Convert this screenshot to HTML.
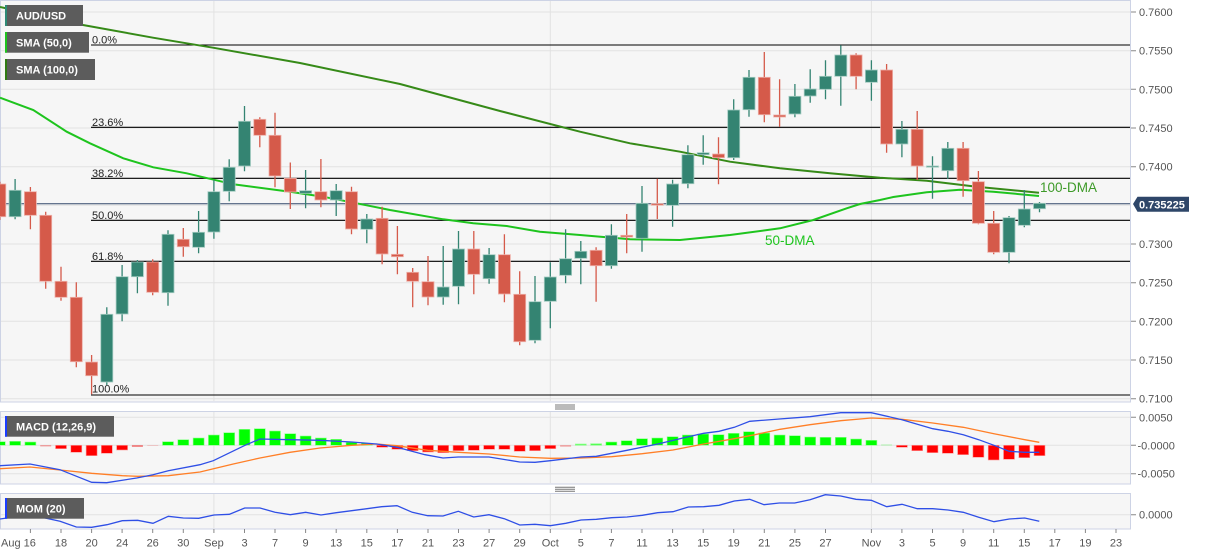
<!DOCTYPE html>
<html><head><meta charset="utf-8"><style>
html,body{margin:0;padding:0;background:#fff;}
body{width:1207px;height:555px;overflow:hidden;}
svg{display:block;font-family:"Liberation Sans",Arial,sans-serif;}
.ax{font-size:11px;fill:#555;}
.lg{font-size:11px;font-weight:bold;fill:#fff;}
.fib{font-size:11px;fill:#222;}
</style></head><body>
<svg width="1207" height="555" viewBox="0 0 1207 555" xmlns="http://www.w3.org/2000/svg">
<defs>
<clipPath id="cm"><rect x="0" y="0" width="1130.5" height="402"/></clipPath>
<clipPath id="cd"><rect x="0" y="411" width="1130.5" height="73"/></clipPath>
<clipPath id="co"><rect x="0" y="493" width="1130.5" height="36"/></clipPath>
</defs>
<!-- panels -->
<rect x="0.5" y="0.5" width="1130" height="401.5" fill="#f6f6f6" stroke="#cdd3e5"/>
<rect x="0.5" y="411.5" width="1130" height="72.5" fill="#f6f6f6" stroke="#cdd3e5"/>
<rect x="0.5" y="493.5" width="1130" height="35.5" fill="#f6f6f6" stroke="#cdd3e5"/>
<!-- gridlines main -->
<g stroke="#e2e2e2" stroke-width="1">
<path d="M1 12H1130M1 50.7H1130M1 89.3H1130M1 128H1130M1 166.7H1130M1 205.3H1130M1 244H1130M1 282.7H1130M1 321.3H1130M1 360H1130M1 398.7H1130"/>
<path d="M213.9 1V401M550.3 1V401M871.4 1V401"/>
<path d="M1 417.3H1130M1 445.3H1130M1 473.7H1130M213.9 412V483M550.3 412V483M871.4 412V483"/>
<path d="M1 514.7H1130M213.9 494V528M550.3 494V528M871.4 494V528"/>
</g>
<!-- handles -->
<g stroke="#777" stroke-width="1">
<path d="M555 405H575M555 407H575M555 409H575"/>
<path d="M555 487.3H575M555 489.3H575M555 491.3H575"/>
</g>
<!-- right axis ticks -->
<g stroke="#888" stroke-width="1">
<path d="M1131 12H1136M1131 50.7H1136M1131 89.3H1136M1131 128H1136M1131 166.7H1136M1131 244H1136M1131 282.7H1136M1131 321.3H1136M1131 360H1136M1131 398.7H1136"/>
<path d="M1131 417.3H1136M1131 445.3H1136M1131 473.7H1136M1131 514.7H1136"/>
<path d="M30.4 529V533M61 529V533M91.6 529V533M122.1 529V533M152.7 529V533M183.3 529V533M213.9 529V533M244.5 529V533M275 529V533M305.6 529V533M336.2 529V533M366.8 529V533M397.4 529V533M428 529V533M458.5 529V533M489.1 529V533M519.7 529V533M550.3 529V533M580.8 529V533M611.4 529V533M642 529V533M672.6 529V533M703.2 529V533M733.7 529V533M764.3 529V533M794.9 529V533M825.5 529V533M871.4 529V533M901.9 529V533M932.5 529V533M963.1 529V533M993.7 529V533M1024.3 529V533M1054.8 529V533M1085.4 529V533M1116 529V533"/>
</g>
<g class="ax">
<text x="1139" y="16">0.7600</text>
<text x="1139" y="54.7">0.7550</text>
<text x="1139" y="93.3">0.7500</text>
<text x="1139" y="132">0.7450</text>
<text x="1139" y="170.7">0.7400</text>
<text x="1139" y="248">0.7300</text>
<text x="1139" y="286.7">0.7250</text>
<text x="1139" y="325.3">0.7200</text>
<text x="1139" y="364">0.7150</text>
<text x="1139" y="402.5">0.7100</text>
<text x="1139" y="421.3">0.0050</text>
<text x="1137.5" y="449.3">-0.0000</text>
<text x="1137.5" y="477.7">-0.0050</text>
<text x="1139" y="518.7">0.0000</text>
</g>
<g class="ax" text-anchor="middle">
<text x="1" y="546.5" text-anchor="start">Aug 16</text>
<text x="61" y="546.5">18</text>
<text x="91.6" y="546.5">20</text>
<text x="122.1" y="546.5">24</text>
<text x="152.7" y="546.5">26</text>
<text x="183.3" y="546.5">30</text>
<text x="213.9" y="546.5">Sep</text>
<text x="244.5" y="546.5">3</text>
<text x="275" y="546.5">7</text>
<text x="305.6" y="546.5">9</text>
<text x="336.2" y="546.5">13</text>
<text x="366.8" y="546.5">15</text>
<text x="397.4" y="546.5">17</text>
<text x="428" y="546.5">21</text>
<text x="458.5" y="546.5">23</text>
<text x="489.1" y="546.5">27</text>
<text x="519.7" y="546.5">29</text>
<text x="550.3" y="546.5">Oct</text>
<text x="580.8" y="546.5">5</text>
<text x="611.4" y="546.5">7</text>
<text x="642" y="546.5">11</text>
<text x="672.6" y="546.5">13</text>
<text x="703.2" y="546.5">15</text>
<text x="733.7" y="546.5">19</text>
<text x="764.3" y="546.5">21</text>
<text x="794.9" y="546.5">25</text>
<text x="825.5" y="546.5">27</text>
<text x="871.4" y="546.5">Nov</text>
<text x="901.9" y="546.5">3</text>
<text x="932.5" y="546.5">5</text>
<text x="963.1" y="546.5">9</text>
<text x="993.7" y="546.5">11</text>
<text x="1024.3" y="546.5">15</text>
<text x="1054.8" y="546.5">17</text>
<text x="1085.4" y="546.5">19</text>
<text x="1116" y="546.5">23</text>
</g>

<g clip-path="url(#cm)">
<!-- fib lines -->
<g stroke="#000" stroke-width="1.1">
<path d="M91 45H1130M91 127.3H1130M91 178.3H1130M91 220.3H1130M91 261.3H1130M91 395H1130"/>
</g>
<g class="fib">
<text x="92" y="43.5">0.0%</text>
<text x="92" y="126">23.6%</text>
<text x="92" y="177">38.2%</text>
<text x="92" y="219">50.0%</text>
<text x="92" y="260">61.8%</text>
<text x="92" y="392.5">100.0%</text>
</g>
<!-- current price line -->
<path d="M0 203.7H1130" stroke="#34496b" stroke-width="1"/>
<!-- SMA100 -->
<polyline fill="none" stroke="#368a18" stroke-width="2" points="0,7 83,25 153,37.7 213,47.7 300,63 400,84 500,111 580,131.7 630,143.3 680,151.7 730,161.7 780,168.3 830,173.3 880,177.7 926.7,180.7 976.7,186.7 1039,192.7"/>
<!-- SMA50 -->
<polyline fill="none" stroke="#1ec41e" stroke-width="2" points="0,97.7 33.3,110 66.7,131.7 90,143.3 123.3,158.3 153.3,167.3 186.7,173.3 233.3,184.3 290,191.7 323,196.7 356.7,203.3 390,210 443.3,219.3 473.3,223.3 506.7,226 540,231.7 580,235 630,239.3 680,240 730,235 780,228.3 813.3,220 846.7,208.3 860,204 880,200 893.3,197 926.7,192.3 960,189.7 993.3,191.7 1039,196"/>
<!-- wicks -->
<path fill="none" stroke="#348472" stroke-width="1.3" d="M15.1 179V219.3M106.8 307.3V385M122.1 265V321.3M137.4 260V293.3M168 230.3V305.7M198.6 211V253.3M213.9 180V238.7M229.2 159.3V201.3M244.5 106V171.3M305.6 170V208.3M336.2 184V216M366.8 214V243.3M443.2 246V304.7M458.5 231V304.3M489.1 248V283.7M535 276V343.3M550.3 262.3V328.3M565.6 229.3V283.3M580.8 241V284.3M611.4 224.3V268.7M642 186V251.7M672.6 179.7V226.7M687.9 145.3V188.3M703.2 135.3V164.7M733.7 99.3V160M749 70V116.7M794.9 84V117.3M810.2 69.3V102.7M825.5 60.3V99.3M840.8 45.3V105.7M871.4 60.3V100.7M901.9 121V157.3M932.5 156.3V198.7M947.8 142V179M1009 216V263.3M1024.3 190V227.3M1039.5 202V212.3"/>
<path fill="none" stroke="#d55a4a" stroke-width="1.3" d="M-0.2 181.7V220M30.4 187V229.3M45.7 211.7V288.7M61 266.7V300.7M76.3 282.3V367.3M91.6 355V394.3M152.7 259.3V295.3M183.3 228V256.7M259.8 117.3V147.3M275 112.7V187.3M290.3 162.5V209M320.9 159V207.3M351.5 186.7V234.3M382.1 206.7V264.3M397.4 226V274.3M412.7 268V307.3M428 256V305.3M473.8 231V294.3M504.4 234.3V302.3M519.7 271.3V345.3M596.1 247.3V301.7M626.7 214V253.3M657.3 178.7V219M718.5 137.3V184.3M764.3 52V122.3M779.6 79.3V126.7M856.1 53.3V89.3M886.6 64V152.7M917.2 111V180M963.1 142V196.7M978.4 171V224.3M993.7 211V254.3"/>
<!-- green bodies -->
<g fill="#348472" stroke="#a3cbc1" stroke-width="0.8">
<rect x="9.1" y="190.3" width="12" height="26.4"/>
<rect x="100.8" y="314.3" width="12" height="67.7"/>
<rect x="116.1" y="276.7" width="12" height="37.3"/>
<rect x="131.4" y="262" width="12" height="14.7"/>
<rect x="162" y="234.3" width="12" height="58.4"/>
<rect x="192.6" y="232.3" width="12" height="15"/>
<rect x="207.9" y="191.7" width="12" height="40.3"/>
<rect x="223.2" y="167.3" width="12" height="24"/>
<rect x="238.5" y="121.3" width="12" height="44.7"/>
<rect x="299.6" y="190.7" width="12" height="2.6"/>
<rect x="330.2" y="190.7" width="12" height="9.3"/>
<rect x="360.8" y="219" width="12" height="10.3"/>
<rect x="437.2" y="287" width="12" height="10"/>
<rect x="452.5" y="249" width="12" height="37.3"/>
<rect x="483.1" y="254.7" width="12" height="24"/>
<rect x="529" y="301.7" width="12" height="38.6"/>
<rect x="544.3" y="277" width="12" height="24.3"/>
<rect x="559.6" y="258.7" width="12" height="16.6"/>
<rect x="574.8" y="251.3" width="12" height="7"/>
<rect x="605.4" y="235.3" width="12" height="30.4"/>
<rect x="636" y="203.3" width="12" height="35"/>
<rect x="666.6" y="184" width="12" height="21.3"/>
<rect x="681.9" y="154.7" width="12" height="29"/>
<rect x="697.2" y="152.7" width="12" height="2"/>
<rect x="727.7" y="110" width="12" height="47.7"/>
<rect x="743" y="77.3" width="12" height="32.4"/>
<rect x="788.9" y="96.3" width="12" height="17.7"/>
<rect x="804.2" y="89" width="12" height="7"/>
<rect x="819.5" y="76.3" width="12" height="13"/>
<rect x="834.8" y="55" width="12" height="21.3"/>
<rect x="865.4" y="70" width="12" height="12.3"/>
<rect x="895.9" y="129.3" width="12" height="14.7"/>
<rect x="926.5" y="166" width="12" height="1.2"/>
<rect x="941.8" y="148.3" width="12" height="22.4"/>
<rect x="1003" y="217.7" width="12" height="34.6"/>
<rect x="1018.3" y="209" width="12" height="16.3"/>
<rect x="1033.5" y="203.3" width="12" height="5.4"/>
</g>
<!-- red bodies -->
<g fill="#d55a4a" stroke="#eeb0a8" stroke-width="0.8">
<rect x="-6.2" y="184" width="12" height="32.7"/>
<rect x="24.4" y="191.7" width="12" height="23.6"/>
<rect x="39.7" y="215.3" width="12" height="66"/>
<rect x="55" y="281.3" width="12" height="16"/>
<rect x="70.3" y="297.3" width="12" height="64.4"/>
<rect x="85.6" y="362" width="12" height="13.7"/>
<rect x="146.7" y="262" width="12" height="30.3"/>
<rect x="177.3" y="239.3" width="12" height="7.4"/>
<rect x="253.8" y="119.3" width="12" height="16"/>
<rect x="269" y="135.3" width="12" height="40.7"/>
<rect x="284.3" y="178.3" width="12" height="13.7"/>
<rect x="314.9" y="191.7" width="12" height="8.3"/>
<rect x="345.5" y="191.7" width="12" height="37.3"/>
<rect x="376.1" y="218.3" width="12" height="35.7"/>
<rect x="391.4" y="254.3" width="12" height="2.4"/>
<rect x="406.7" y="272.3" width="12" height="9"/>
<rect x="422" y="281.7" width="12" height="15.3"/>
<rect x="467.8" y="249" width="12" height="25.3"/>
<rect x="498.4" y="254.7" width="12" height="39.3"/>
<rect x="513.7" y="294.3" width="12" height="47.4"/>
<rect x="590.1" y="250.3" width="12" height="15.4"/>
<rect x="620.7" y="235.3" width="12" height="1.7"/>
<rect x="651.3" y="203.7" width="12" height="1.5"/>
<rect x="712.5" y="154" width="12" height="3.7"/>
<rect x="758.3" y="77.3" width="12" height="37.4"/>
<rect x="773.6" y="115" width="12" height="2"/>
<rect x="850.1" y="55" width="12" height="21.3"/>
<rect x="880.6" y="70" width="12" height="74"/>
<rect x="911.2" y="129.3" width="12" height="36.7"/>
<rect x="957.1" y="148.3" width="12" height="32.4"/>
<rect x="972.4" y="181.7" width="12" height="41.6"/>
<rect x="987.7" y="223.3" width="12" height="29"/>
</g>
<text x="765" y="245" font-size="13.5" fill="#1ec41e">50-DMA</text>
<text x="1040" y="192" font-size="13.5" fill="#3d9a28">100-DMA</text>
</g>
<!-- price box -->
<polygon points="1133,204 1137.5,196.7 1189,196.7 1189,211.7 1137.5,211.7" fill="#2e4669"/>
<text x="1139" y="208.3" font-size="11" font-weight="bold" fill="#fff">0.735225</text>

<!-- legend -->
<rect x="5" y="5" width="78" height="21" fill="#5c5c5c"/>
<rect x="5" y="5" width="2" height="21" fill="#2e8a76"/>
<text x="16" y="19.5" class="lg">AUD/USD</text>
<rect x="5" y="32" width="84" height="20.7" fill="#5c5c5c"/>
<rect x="5" y="32" width="2" height="20.7" fill="#1ec41e"/>
<text x="16" y="46.3" class="lg">SMA (50,0)</text>
<rect x="5" y="59" width="90" height="21" fill="#5c5c5c"/>
<rect x="5" y="59" width="2" height="21" fill="#2f7a12"/>
<text x="16" y="73.5" class="lg">SMA (100,0)</text>

<!-- MACD -->
<g clip-path="url(#cd)">
<g fill="#00ff00" stroke="#8fff8f" stroke-width="0.6">
<rect x="-5.7" y="441.7" width="11" height="3.6"/>
<rect x="9.6" y="441.3" width="11" height="4"/>
<rect x="24.9" y="442" width="11" height="3.3"/>
<rect x="162.5" y="441.7" width="11" height="3.6"/>
<rect x="177.8" y="439.7" width="11" height="5.6"/>
<rect x="193.1" y="438" width="11" height="7.3"/>
<rect x="208.4" y="435" width="11" height="10.3"/>
<rect x="223.7" y="432.7" width="11" height="12.6"/>
<rect x="239" y="429.3" width="11" height="16"/>
<rect x="254.3" y="428.7" width="11" height="16.6"/>
<rect x="269.5" y="431" width="11" height="14.3"/>
<rect x="284.8" y="433.7" width="11" height="11.6"/>
<rect x="300.1" y="436" width="11" height="9.3"/>
<rect x="315.4" y="438" width="11" height="7.3"/>
<rect x="330.7" y="439.3" width="11" height="6"/>
<rect x="346" y="442.3" width="11" height="3"/>
<rect x="361.3" y="443.3" width="11" height="2"/>
<rect x="575.3" y="444" width="11" height="1.3" fill="#66ff66"/>
<rect x="590.6" y="443.7" width="11" height="1.6" fill="#55ff55"/>
<rect x="605.9" y="442" width="11" height="3.3"/>
<rect x="621.2" y="440.7" width="11" height="4.6"/>
<rect x="636.5" y="438.7" width="11" height="6.6"/>
<rect x="651.8" y="438" width="11" height="7.3"/>
<rect x="667.1" y="436.7" width="11" height="8.6"/>
<rect x="682.4" y="435" width="11" height="10.3"/>
<rect x="697.7" y="434" width="11" height="11.3"/>
<rect x="713" y="434.7" width="11" height="10.6"/>
<rect x="728.2" y="433.3" width="11" height="12"/>
<rect x="743.5" y="431.7" width="11" height="13.6"/>
<rect x="758.8" y="433" width="11" height="12.3"/>
<rect x="774.1" y="435" width="11" height="10.3"/>
<rect x="789.4" y="435.7" width="11" height="9.6"/>
<rect x="804.7" y="437" width="11" height="8.3"/>
<rect x="820" y="437.3" width="11" height="8"/>
<rect x="835.3" y="437.3" width="11" height="8"/>
<rect x="850.6" y="439" width="11" height="6.3"/>
<rect x="865.9" y="440.3" width="11" height="5"/>
<rect x="881.1" y="444.6" width="11" height="0.8" fill="#99ee99" stroke="none"/>
</g>
<g fill="#ff0000" stroke="#ff9a9a" stroke-width="0.6">
<rect x="40.2" y="445.3" width="11" height="1" fill="#f08080" stroke="none"/>
<rect x="55.5" y="445.3" width="11" height="3.4"/>
<rect x="70.8" y="445.3" width="11" height="7"/>
<rect x="86.1" y="445.3" width="11" height="10.4"/>
<rect x="101.3" y="445.3" width="11" height="8"/>
<rect x="116.6" y="445.3" width="11" height="4.7"/>
<rect x="131.9" y="445.3" width="11" height="1.4" fill="#f06060" stroke="none"/>
<rect x="147.2" y="445.3" width="11" height="0.6" fill="#f0b0b0" stroke="none"/>
<rect x="376.6" y="445.3" width="11" height="2"/>
<rect x="391.9" y="445.3" width="11" height="4"/>
<rect x="407.2" y="445.3" width="11" height="5.4"/>
<rect x="422.5" y="445.3" width="11" height="6.7"/>
<rect x="437.7" y="445.3" width="11" height="7.4"/>
<rect x="453" y="445.3" width="11" height="5.4"/>
<rect x="468.3" y="445.3" width="11" height="5"/>
<rect x="483.6" y="445.3" width="11" height="4"/>
<rect x="498.9" y="445.3" width="11" height="4"/>
<rect x="514.2" y="445.3" width="11" height="6"/>
<rect x="529.5" y="445.3" width="11" height="5.4"/>
<rect x="544.8" y="445.3" width="11" height="3.4"/>
<rect x="560.1" y="445.3" width="11" height="1.2" fill="#f08a8a" stroke="none"/>
<rect x="896.4" y="445.3" width="11" height="2"/>
<rect x="911.7" y="445.3" width="11" height="5.4"/>
<rect x="927" y="445.3" width="11" height="7.4"/>
<rect x="942.3" y="445.3" width="11" height="8"/>
<rect x="957.6" y="445.3" width="11" height="9.4"/>
<rect x="972.9" y="445.3" width="11" height="12"/>
<rect x="988.2" y="445.3" width="11" height="14.7"/>
<rect x="1003.5" y="445.3" width="11" height="14"/>
<rect x="1018.8" y="445.3" width="11" height="12.4"/>
<rect x="1034" y="445.3" width="11" height="10.4"/>
</g>
<polyline fill="none" stroke="#ff7f27" stroke-width="1.3" points="0,468.7 30,467 60,470 91.7,473.3 122.3,475.7 137.7,476.3 168.3,475.7 200,472 233.3,464 260,458 290,452.3 320,448 351.7,445.3 376.7,444 397,445.7 427.7,450.3 458.3,452.3 489,454 519.7,457 550.3,458.3 581,458 611.7,456.7 642.3,453.7 673,450 703.7,444 734.3,438.7 755,434.7 780,429.3 810,424.7 840.7,420.7 871.3,418 902,419.3 932.7,423 963.3,427.3 994,433.7 1024.7,439.7 1039.3,442.3"/>
<polyline fill="none" stroke="#2f4fe6" stroke-width="1.3" points="0,465.7 30,464 60,469.7 91.7,482.3 106.7,482.7 136.7,478 153,474.7 168.3,470.7 200,464.7 213.3,460.7 245,445.3 260,439 290,439.7 320,440.3 351.7,442 376.7,444 397,447.3 425,454.7 443,458 458.3,457 489,457 519.7,462 535,462.3 550.3,460.7 581,457 596.3,456.3 627,450.3 657.7,444 688.3,436.7 703.7,433.3 719,431.3 734.3,427.3 749.7,421.3 779.3,419 810,416.7 840.7,412.7 871.3,412.7 902,419.7 932.7,428.7 948,431.3 963.3,434.7 978.7,439.7 994,445.3 1009.3,451.3 1024.7,452.3 1039.3,452.3"/>
</g>
<rect x="5" y="416" width="109" height="20.7" fill="#5c5c5c"/>
<rect x="5" y="416" width="2" height="20.7" fill="#1a3cff"/>
<text x="16" y="430.3" class="lg">MACD (12,26,9)</text>

<!-- MOM -->
<g clip-path="url(#co)">
<polyline fill="none" stroke="#2f4fe6" stroke-width="1.3" points="0,519 30,514.7 60,521.3 76.3,527 91.7,527.3 107,524.7 122.3,520.7 137.7,520.3 153,523.3 168.3,516.3 183.3,518 198.7,518.3 214,515 229.3,514.3 244.7,508 260,508 275,512.3 290.3,514.7 305.7,512.3 321,515 336.3,512.7 351.7,510.7 367,508.7 381.7,506.7 397,505.7 412.3,512.3 427.7,515.7 443,516 458.3,511.3 473.7,517 489,514.7 504.3,518.7 519.7,525 535,524.3 550.3,525.7 565.7,523.3 581,520 596.3,519.3 611.7,517.7 627,517 642.3,515.3 657.7,512.7 673,511.7 688.3,507 703.7,506.7 719,505.3 734.3,501 749.7,499.3 764,504.7 779.3,503 794.7,503 810,499.7 825.3,494.7 840.7,496 856,499.3 871.3,500.3 886.7,506.7 902,504.3 917.3,508.7 932.7,508.7 948,510 963.3,512.3 978.7,517.3 994,521.7 1009.3,519 1024.7,518 1039.3,521.3"/>
</g>
<rect x="5" y="498" width="79" height="20.7" fill="#5c5c5c"/>
<rect x="5" y="498" width="2" height="20.7" fill="#1a3cff"/>
<text x="16" y="512.3" class="lg">MOM (20)</text>
</svg>
</body></html>
